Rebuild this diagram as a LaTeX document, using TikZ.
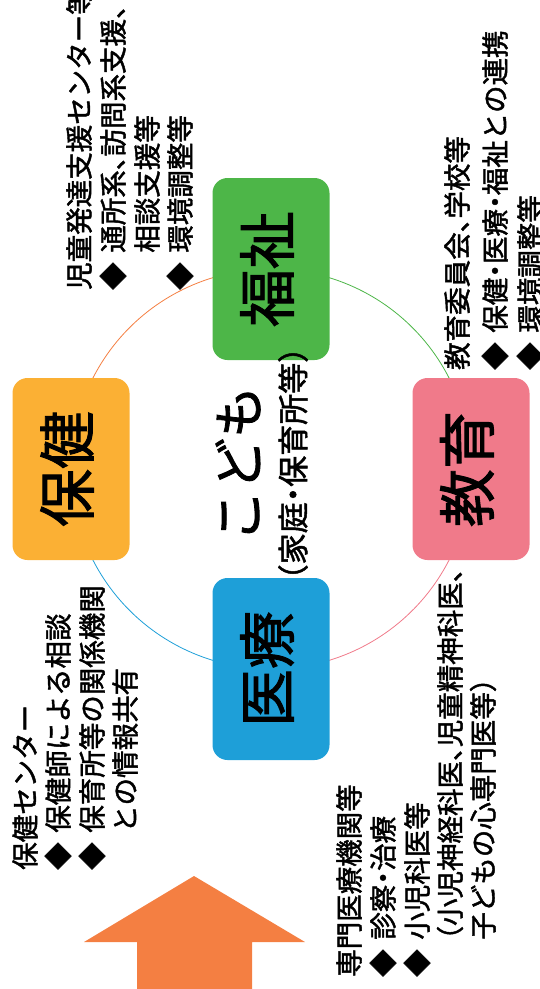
\documentclass[tikz,border=0pt]{standalone}
\usepackage{fontspec}
\usepackage{graphicx}
\setmainfont{Noto Sans CJK JP}[FakeBold=1.6]
\definecolor{cgreen}{HTML}{4DB648}
\definecolor{cyellow}{HTML}{FBB034}
\definecolor{cpink}{HTML}{F07A8A}
\definecolor{cblue}{HTML}{1E9FD8}
\definecolor{corange}{HTML}{F47F42}
\newcommand\hc{\makebox[0.5em][l]{、}}
\newcommand\hd{\makebox[0.5em][c]{・}}
\newcommand\hpo{\makebox[0.5em][r]{（}}
\newcommand\hpc{\makebox[0.5em][l]{）}}
\newcommand\dia{\makebox[1.35em][l]{◆}}
\newcommand\ind{\hspace*{1.35em}}
\begin{document}
\begin{tikzpicture}[x=1pt,y=-1pt,
  txt/.style={rotate=90,anchor=west,inner sep=0pt,font=\fontsize{27.5}{30}\selectfont},
  box/.style={rounded corners=15pt,minimum width=117pt,minimum height=182pt,inner sep=0pt},
  big/.style={rotate=90,inner sep=0pt,font=\fontsize{58}{58}\selectfont},
  ring/.style={line width=0.8pt}]
\useasboundingbox (0,0) rectangle (539,989);
% ring arcs
\draw[ring,corange] plot[domain=180:270,samples=60] ({271+200*cos(\x)},{469+200*sin(\x)});
\draw[ring,cgreen] plot[domain=270:360,samples=60] ({271+200*cos(\x)},{469+200*sin(\x)});
\draw[ring,cpink] plot[domain=0:90,samples=60] ({271+200*cos(\x)},{469+200*sin(\x)});
\draw[ring,cblue] plot[domain=90:180,samples=60] ({271+200*cos(\x)},{469+200*sin(\x)});
% boxes
\node[box,fill=cgreen] (fukushi) at (271,269) {};
\node[box,fill=cyellow] (hoken) at (71,469) {};
\node[box,fill=cpink] (kyouiku) at (471,469) {};
\node[box,fill=cblue] (iryou) at (271,669) {};
\node[big] (fukushiL) at (267,269) {福祉};
\node[big] (hokenL) at (67,469) {保健};
\node[big] (kyouikuL) at (467,469) {教育};
\node[big] (iryouL) at (267,669) {医療};
% center
\node[rotate=90,inner sep=0pt,font=\fontsize{52}{52}\selectfont] (kodomo) at (238,464) {こども};
\node[rotate=90,anchor=west,inner sep=0pt,font=\fontsize{31}{31}\selectfont] (katei) at (293,580) {\hpo 家庭\hd 保育所等\hpc};
% top block
\node[txt] (t1) at (79,290) {児童発達支援センター等};
\node[txt] (t2) at (113,290) {\dia 通所系\hc 訪問系支援\hc};
\node[txt] (t3) at (147,290) {\ind 相談支援等};
\node[txt] (t4) at (180,290) {\dia 環境調整等};
% right block
\node[txt] (r1) at (457,370) {教育委員会\hc 学校等};
\node[txt] (r2) at (495,370) {\dia 保健\hd 医療\hd 福祉との連携};
\node[txt] (r3) at (530,370) {\dia 環境調整等};
% left block
\node[txt] (l1) at (25,870) {保健センター};
\node[txt] (l2) at (58,870) {\dia 保健師による相談};
\node[txt] (l3) at (92,870) {\dia 保育所等の関係機関};
\node[txt] (l4) at (125,870) {\ind との情報共有};
% bottom right block
\node[txt] (b1) at (349,977) {専門医療機関等};
\node[txt] (b2) at (383,977) {\dia 診察\hd 治療};
\node[txt] (b3) at (417,977) {\dia 小児科医等};
\node[txt] (b4) at (450,977) {\ind\hpo 小児神経科医\hc 児童精神科医\hc};
\node[txt] (b5) at (483,977) {\ind 子どもの心専門医等\hpc};
% arrow
\fill[corange] (194,876) -- (305,942) -- (252,942) -- (252,989) -- (137,989) -- (137,942) -- (84,942) -- cycle;
\end{tikzpicture}
\end{document}
